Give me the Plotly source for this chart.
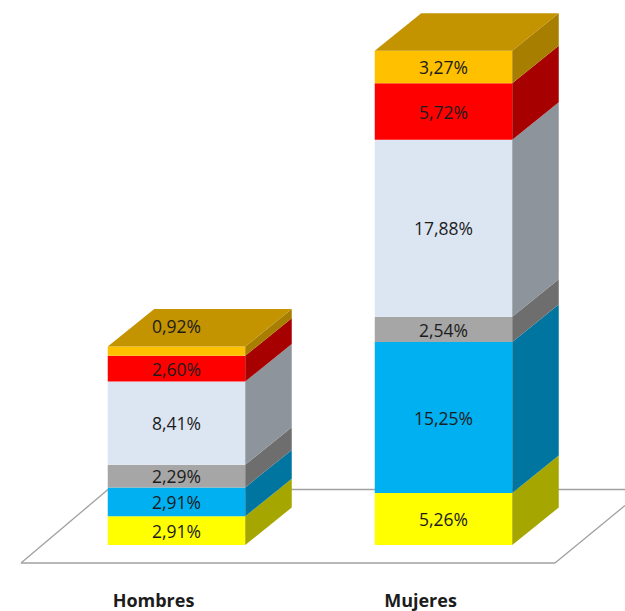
import plotly.graph_objects as go

categories = ["Hombres", "Mujeres"]
series_yellow = [2.91, 5.26]
series_blue = [2.91, 15.25]
series_gray = [2.29, 2.54]
series_light = [8.41, 17.88]
series_red = [2.60, 5.72]
series_orange = [0.92, 3.27]

all_series = [series_yellow, series_blue, series_gray, series_light, series_red, series_orange]
front_colors = ["#FFFF00", "#00B0F0", "#A6A6A6", "#DCE6F2", "#FF0000", "#FFC000"]
side_colors = ["#A6A600", "#0075A0", "#6E6E6E", "#8D949B", "#A60000", "#A87E00"]
top_color = "#C49300"

W, H = 625, 611
bottom_margin = 23
px_per_unit = 9.9
px_per_cat = 267.0
x0_px = 176.5
base_px = 545.0
bar_width = 0.515
depth_x = 46.5 / px_per_cat
depth_y = 37.5 / px_per_unit
label_drop = 2.8 / px_per_unit
tick_shift = 23.0 / px_per_cat
xs = [0, 1]

fig = go.Figure()

cum = [0.0, 0.0]
label_x, label_y, label_t = [], [], []
for vals, fc, sc in zip(all_series, front_colors, side_colors):
    fig.add_trace(go.Bar(x=xs, y=vals, base=cum[:], width=bar_width,
                         marker=dict(color=fc, line=dict(width=0)),
                         showlegend=False, hoverinfo="skip"))
    for i in xs:
        xr = i + bar_width / 2
        y0, y1 = cum[i], cum[i] + vals[i]
        fig.add_trace(go.Scatter(
            x=[xr, xr + depth_x, xr + depth_x, xr, xr],
            y=[y0, y0 + depth_y, y1 + depth_y, y1, y0],
            mode="lines", fill="toself", fillcolor=sc,
            line=dict(width=0, color=sc), showlegend=False, hoverinfo="skip"))
        label_x.append(i)
        if vals[i] < 1:
            label_y.append(y1 + depth_y * 0.55 - label_drop)
        else:
            label_y.append((y0 + y1) / 2 - label_drop)
        label_t.append(f"{vals[i]:.2f}%".replace(".", ","))
    cum = [cum[0] + vals[0], cum[1] + vals[1]]

for i in xs:
    xl = i - bar_width / 2
    xr = i + bar_width / 2
    fig.add_trace(go.Scatter(
        x=[xl, xr, xr + depth_x, xl + depth_x, xl],
        y=[cum[i], cum[i], cum[i] + depth_y, cum[i] + depth_y, cum[i]],
        mode="lines", fill="toself", fillcolor=top_color,
        line=dict(width=0, color=top_color), showlegend=False, hoverinfo="skip"))

fig.add_trace(go.Scatter(x=label_x, y=label_y, text=label_t, mode="text",
                         textposition="middle center",
                         textfont=dict(family="Open Sans", size=17.5, color="#1c1c1c"),
                         showlegend=False, hoverinfo="skip"))

x_range = [(0 - x0_px) / px_per_cat, (W - x0_px) / px_per_cat]
y_range = [(base_px - (H - bottom_margin)) / px_per_unit, base_px / px_per_unit]
floor_color = "#A0A0A0"
plot_h = H - bottom_margin
def fx(p): return p / W
def fy(p): return 1 - p / plot_h
floor_lines = [((21, 563), (555, 563)), ((21, 563), (108, 489.5)),
               ((108, 489.5), (625, 489.5)), ((555, 563), (625, 505.5))]
shapes = [dict(type="line", xref="paper", yref="paper", layer="below",
               x0=fx(a[0]), y0=fy(a[1]), x1=fx(b[0]), y1=fy(b[1]),
               line=dict(color=floor_color, width=1.3))
          for a, b in floor_lines]

fig.update_layout(
    width=W, height=H, autosize=False,
    margin=dict(l=0, r=0, t=0, b=bottom_margin),
    paper_bgcolor="white", plot_bgcolor="white",
    barmode="overlay", shapes=shapes,
    font=dict(family="Open Sans"),
    xaxis=dict(range=x_range, tickmode="array", tickvals=[x - tick_shift for x in xs],
               ticktext=categories, ticklabelstandoff=0,
               showgrid=False, zeroline=False, showline=False, ticks="",
               tickfont=dict(family="Open Sans", size=18, color="#1c1c1c", weight="bold")),
    yaxis=dict(range=y_range, visible=False, showgrid=False, zeroline=False),
)
fig.write_html("out.html", config=dict(displayModeBar=False),
               post_script="document.body.style.margin='0';document.body.style.overflow='hidden';")
